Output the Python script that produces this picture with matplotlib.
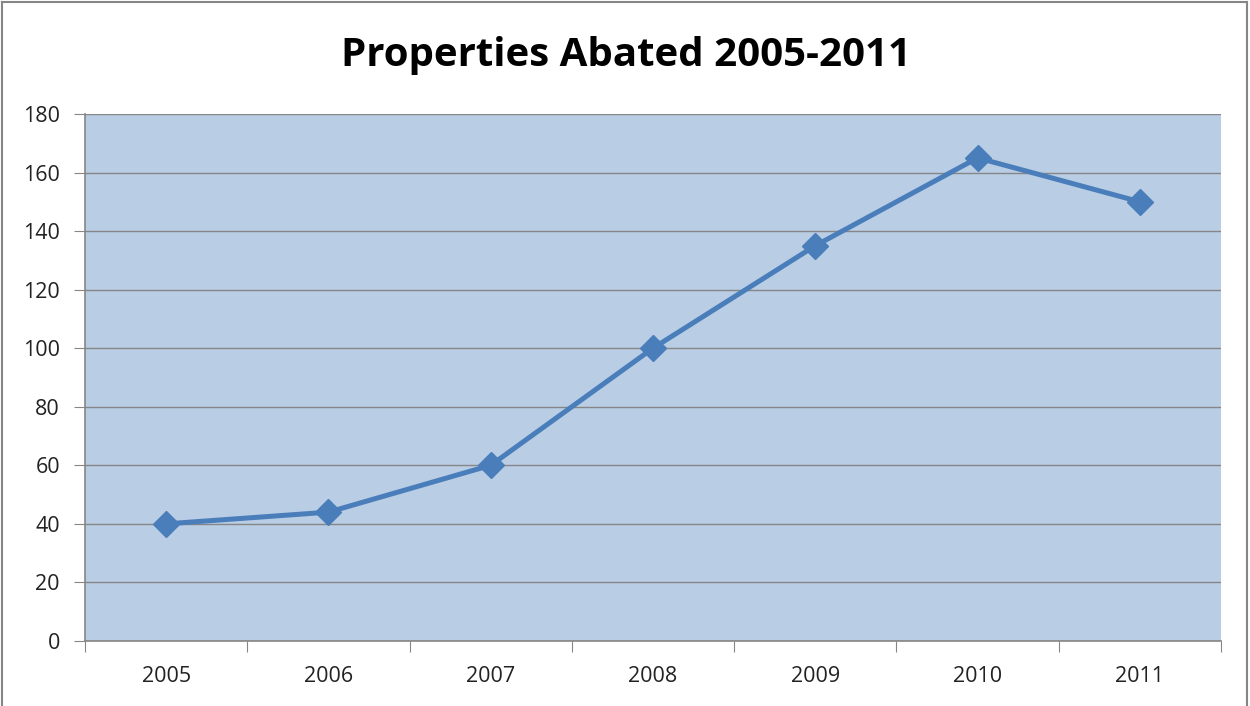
import matplotlib.pyplot as plt
from matplotlib.lines import Line2D

years = ['2005', '2006', '2007', '2008', '2009', '2010', '2011']
abated = [40, 44, 60, 100, 135, 165, 150]
y_ticks = [0, 20, 40, 60, 80, 100, 120, 140, 160, 180]

plt.rcParams['font.family'] = ['Open Sans', 'DejaVu Sans']

fig = plt.figure(figsize=(12.5, 7.06), dpi=100)
ax = fig.add_axes([0.068, 0.0921, 0.9088, 0.7465])
ax.set_facecolor('#B9CDE5')

x = range(len(years))
ax.plot(x, abated, color='#4A7EBB', lw=3.6, marker='D', ms=13,
        markeredgecolor='#4A7EBB', zorder=3)

ax.set_xlim(-0.5, len(years) - 0.5)
ax.set_ylim(0, 180)
ax.set_yticks(y_ticks)
ax.yaxis.grid(True, color='#868686', lw=1)
ax.set_axisbelow(True)

# category labels centred, tick marks on the boundaries between them
ax.set_xticks([i - 0.5 for i in range(len(years) + 1)])
ax.set_xticklabels([])
ax.set_xticks(list(x), minor=True)
ax.set_xticklabels(years, minor=True)
ax.tick_params(axis='x', which='major', length=8, color='#868686', direction='out')
ax.tick_params(axis='x', which='minor', length=0, pad=18, labelsize=15.5, labelcolor='#222222')
ax.tick_params(axis='y', length=8, color='#868686', pad=10, labelsize=15.5, labelcolor='#222222')

for side in ['top', 'right']:
    ax.spines[side].set_visible(False)
for side in ['left', 'bottom']:
    ax.spines[side].set_color('#868686')
    ax.spines[side].set_linewidth(1.2)

fig.text(0.501, 0.922, 'Properties Abated 2005-2011', ha='center', va='center',
         fontsize=29, fontweight='bold', color='black')

# outer chart frame
w, h = 1250, 706
for xs, ys in [([2 / w, 2 / w], [0, 1 - 2 / h]),
               ([2 / w, 1247 / w], [1 - 2 / h, 1 - 2 / h]),
               ([1247 / w, 1247 / w], [0, 1 - 2 / h])]:
    fig.add_artist(Line2D(xs, ys, color='#868686', lw=1.5, transform=fig.transFigure))

fig.savefig('out.png', dpi=100)
